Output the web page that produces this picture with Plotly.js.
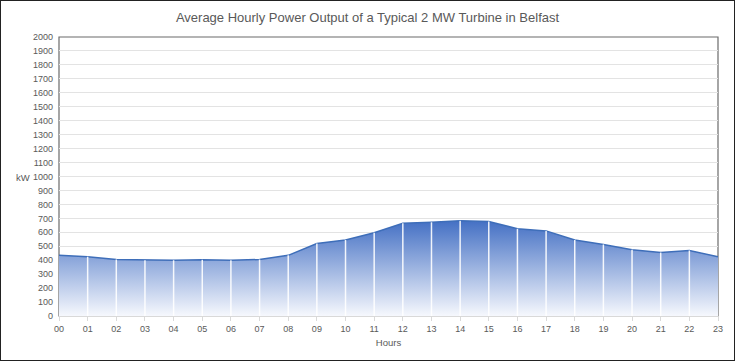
<!DOCTYPE html>
<html>
<head>
<meta charset="utf-8">
<script src="https://cdn.plot.ly/plotly-3.0.1.min.js"></script>
<style>
html,body{margin:0;padding:0;background:#fff;}
#chart{width:735px;height:361px;box-sizing:border-box;border:1px solid #222;}
</style>
</head>
<body>
<div id="chart"></div>
<script>
const hours = [0,1,2,3,4,5,6,7,8,9,10,11,12,13,14,15,16,17,18,19,20,21,22,23];
const hourLabels = ["00","01","02","03","04","05","06","07","08","09","10","11","12","13","14","15","16","17","18","19","20","21","22","23"];
const powerKW = [435,425,405,400,400,403,400,405,435,520,545,597,665,672,683,678,625,610,545,513,475,455,470,425];

const dropX = [], dropY = [];
for (let i = 1; i < hours.length - 1; i++) {
  dropX.push(hours[i], hours[i], null);
  dropY.push(0, powerKW[i], null);
}

const font = "Liberation Sans, Arial, sans-serif";
const gray = "#595959";

const data = [
  {
    x: hours, y: powerKW, type: "scatter", mode: "lines",
    fill: "tozeroy",
    fillgradient: {type: "vertical", colorscale: [[0, "rgb(246,248,253)"], [1, "rgb(68,112,196)"]]},
    line: {color: "rgb(62,110,185)", width: 1.5},
    hoverinfo: "skip", showlegend: false
  },
  {
    x: dropX, y: dropY, type: "scatter", mode: "lines",
    line: {color: "rgba(255,255,255,0.9)", width: 1.5},
    hoverinfo: "skip", showlegend: false
  }
];

const layout = {
  width: 733, height: 359,
  margin: {l: 58, r: 16, t: 36, b: 44},
  paper_bgcolor: "#fff", plot_bgcolor: "#fff",
  font: {family: font, color: gray, size: 9},
  title: {text: "Average Hourly Power Output of a Typical 2 MW Turbine in Belfast",
          font: {family: font, size: 13, color: gray}, x: 0.5, xanchor: "center", y: 0.955, yanchor: "middle"},
  xaxis: {
    range: [0, 23], tickvals: hours, ticktext: hourLabels,
    showgrid: false, zeroline: false,
    showline: true, linecolor: "#d9d9d9", linewidth: 1,
    ticks: "outside", ticklen: 4, tickcolor: "#d9d9d9",
    tickfont: {size: 9, color: gray},
    title: {text: "Hours", font: {size: 9.5, color: gray}, standoff: 6}
  },
  yaxis: {
    range: [0, 2000], dtick: 100, tick0: 0,
    showgrid: true, gridcolor: "#e3e3e3", gridwidth: 1,
    zeroline: false, showline: false, ticks: "",
    ticklabelstandoff: 5,
    tickfont: {size: 9, color: gray}
  },
  shapes: [
    {type: "rect", xref: "paper", yref: "paper", x0: 0, x1: 1, y0: 0, y1: 1,
     line: {color: "#6b6b6b", width: 1.2}, layer: "below"}
  ],
  annotations: [
    {text: "kW", xref: "paper", yref: "paper", x: -0.055, y: 0.495, showarrow: false,
     xanchor: "center", yanchor: "middle", font: {size: 9.5, color: gray}}
  ]
};

Plotly.newPlot("chart", data, layout, {displayModeBar: false, staticPlot: true});
</script>
</body>
</html>
